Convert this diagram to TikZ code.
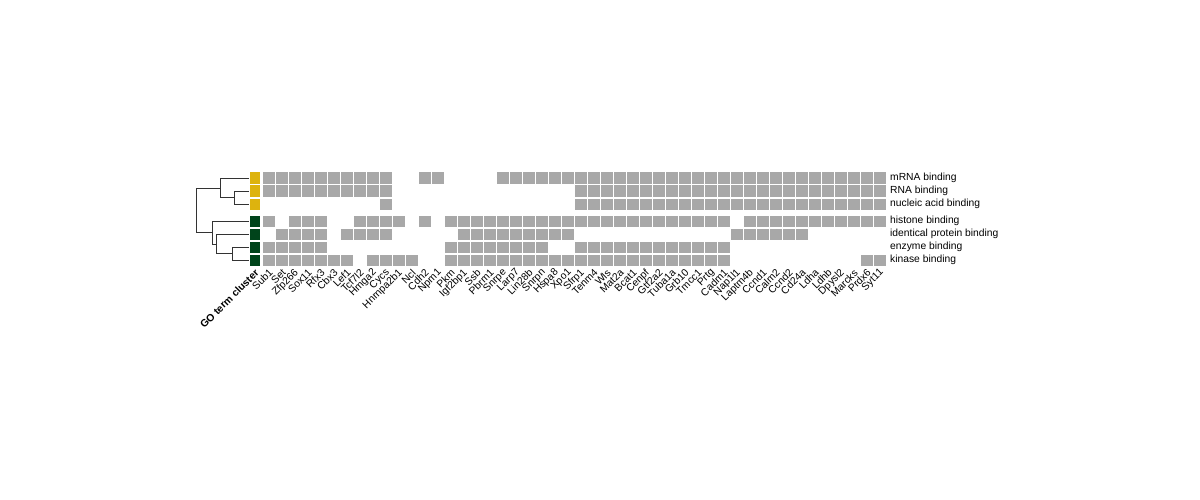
\documentclass[tikz,border=0pt]{standalone}
\usepackage{fontspec}
\setmainfont{Liberation Sans}
\definecolor{hgray}{HTML}{A8A8A8}
\definecolor{gyellow}{HTML}{DDB30E}
\definecolor{ggreen}{HTML}{00441B}
\definecolor{dendc}{HTML}{333333}
\begin{document}
\begin{tikzpicture}[x=1pt,y=-1pt,font=\fontsize{10.3}{12}\selectfont,
  hcell/.style={draw=white,fill=hgray,line width=1.5pt,minimum width=13pt,minimum height=13pt,inner sep=0pt},
  acell/.style={draw=white,line width=1.5pt,minimum width=11.5pt,minimum height=13pt,inner sep=0pt},
  dend/.style={draw=dendc,line width=0.8pt},
  rowlab/.style={anchor=west,inner sep=0pt},
  collab/.style={anchor=east,rotate=45,inner sep=0pt}]
\useasboundingbox (0,0) rectangle (1200,500);
% row centres
\def\ra{178.25}\def\rb{191.25}\def\rc{204.25}\def\rd{221.25}\def\re{234.25}\def\rf{247.25}\def\rg{260.25}
\newcommand\hmcells[4]{\foreach \c in {#3,...,#4}{\node[hcell] (c#1-\c) at ({269+13*\c},#2) {};}}
% row 1 mRNA binding
\hmcells{1}{\ra}{0}{9}\hmcells{1}{\ra}{12}{13}\hmcells{1}{\ra}{18}{47}
% row 2 RNA binding
\hmcells{2}{\rb}{0}{9}\hmcells{2}{\rb}{24}{47}
% row 3 nucleic acid binding
\hmcells{3}{\rc}{9}{9}\hmcells{3}{\rc}{24}{47}
% row 4 histone binding
\hmcells{4}{\rd}{0}{0}\hmcells{4}{\rd}{2}{4}\hmcells{4}{\rd}{7}{10}\hmcells{4}{\rd}{12}{12}\hmcells{4}{\rd}{14}{35}\hmcells{4}{\rd}{37}{47}
% row 5 identical protein binding
\hmcells{5}{\re}{1}{4}\hmcells{5}{\re}{6}{9}\hmcells{5}{\re}{15}{23}\hmcells{5}{\re}{36}{41}
% row 6 enzyme binding
\hmcells{6}{\rf}{0}{4}\hmcells{6}{\rf}{14}{21}\hmcells{6}{\rf}{24}{35}
% row 7 kinase binding
\hmcells{7}{\rg}{0}{6}\hmcells{7}{\rg}{8}{11}\hmcells{7}{\rg}{14}{35}\hmcells{7}{\rg}{46}{47}
% annotation column
\node[acell,fill=gyellow] (a1) at (254.75,\ra) {};
\node[acell,fill=gyellow] (a2) at (254.75,\rb) {};
\node[acell,fill=gyellow] (a3) at (254.75,\rc) {};
\node[acell,fill=ggreen] (a4) at (254.75,\rd) {};
\node[acell,fill=ggreen] (a5) at (254.75,\re) {};
\node[acell,fill=ggreen] (a6) at (254.75,\rf) {};
\node[acell,fill=ggreen] (a7) at (254.75,\rg) {};
% row labels
\node[rowlab] (l1) at (890,\ra) {mRNA binding};
\node[rowlab] (l2) at (890,\rb) {RNA binding};
\node[rowlab] (l3) at (890,\rc) {nucleic acid binding};
\node[rowlab] (l4) at (890,\rd) {histone binding};
\node[rowlab] (l5) at (890,\re) {identical protein binding};
\node[rowlab] (l6) at (890,\rf) {enzyme binding};
\node[rowlab] (l7) at (890,\rg) {kinase binding};
% column labels
\foreach \n [count=\i from 0] in {Sub1,Set,Zfp266,Sox11,Rfx3,Cbx3,Lef1,Tcf7l2,Hmga2,Cycs,Hnrnpa2b1,Ncl,Cdh2,Npm1,Pkm,Igf2bp1,Ssb,Pbrm1,Snrpe,Larp7,Lin28b,Snrpn,Hspa8,Xpo1,Sfrp1,Tenm4,Wls,Mat2a,Bcat1,Cenpf,Gtf2a2,Tuba1a,Grb10,Tmcc1,Prtg,Cadm1,Nap1l1,Laptm4b,Ccnd1,Calm2,Ccnd2,Cd24a,Ldha,Ldhb,Dpysl2,Marcks,Prdx6,Syt11}
  {\node[collab] (n\i) at ({271+13*\i},271) {\n};}
\node[collab,font=\fontsize{10.3}{12}\selectfont\bfseries] (gname) at (257,271) {GO term cluster};
% dendrogram
\draw[dend] (249,\rb) -- (234,\rb) -- (234,\rc) -- (249,\rc);
\draw[dend] (249,\ra) -- (220.7,\ra) -- (220.7,197.75) -- (234,197.75);
\draw[dend] (249,\rf) -- (232.7,\rf) -- (232.7,\rg) -- (249,\rg);
\draw[dend] (249,\re) -- (216,\re) -- (216,253.75) -- (232.7,253.75);
\draw[dend] (249,\rd) -- (212.3,\rd) -- (212.3,244) -- (216,244);
\draw[dend] (220.7,188) -- (196,188) -- (196,232.6) -- (212.3,232.6);
\end{tikzpicture}
\end{document}
